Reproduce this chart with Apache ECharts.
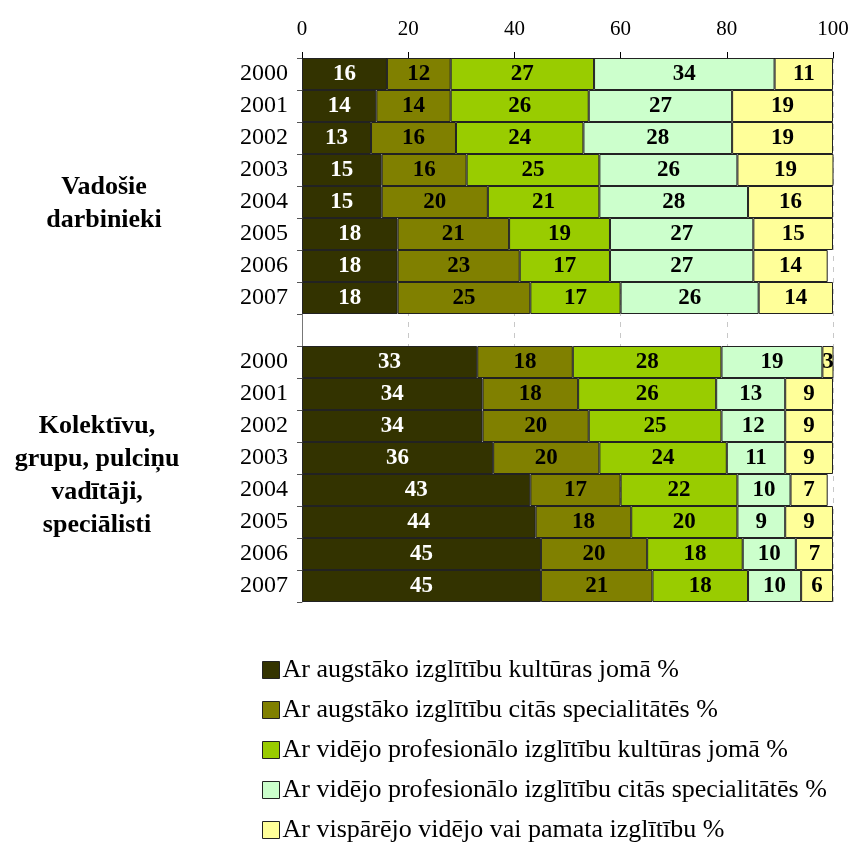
<!DOCTYPE html>
<html>
<head>
<meta charset="utf-8">
<script src="https://cdn.jsdelivr.net/npm/echarts@6/dist/echarts.min.js"></script>
<style>
  html, body { margin: 0; padding: 0; background: #fff; }
  #chart { width: 853px; height: 842px; }
</style>
</head>
<body>
<div id="chart"></div>
<script>
// Years shown in each group
const years = ['2000', '2001', '2002', '2003', '2004', '2005', '2006', '2007'];

// Series names (education level)
const seriesNames = [
  'Ar augstāko izglītību kultūras jomā %',
  'Ar augstāko izglītību citās specialitātēs %',
  'Ar vidējo profesionālo izglītību kultūras jomā %',
  'Ar vidējo profesionālo izglītību citās specialitātēs %',
  'Ar vispārējo vidējo vai pamata izglītību %'
];

// Group 1: Vadošie darbinieki
const leadHigherCulture  = [16, 14, 13, 15, 15, 18, 18, 18];
const leadHigherOther    = [12, 14, 16, 16, 20, 21, 23, 25];
const leadVocCulture     = [27, 26, 24, 25, 21, 19, 17, 17];
const leadVocOther       = [34, 27, 28, 26, 28, 27, 27, 26];
const leadGeneral        = [11, 19, 19, 19, 16, 15, 14, 14];

// Group 2: Kolektīvu, grupu, pulciņu vadītāji, speciālisti
const specHigherCulture  = [33, 34, 34, 36, 43, 44, 45, 45];
const specHigherOther    = [18, 18, 20, 20, 17, 18, 20, 21];
const specVocCulture     = [28, 26, 25, 24, 22, 20, 18, 18];
const specVocOther       = [19, 13, 12, 11, 10, 9, 10, 10];
const specGeneral        = [3, 9, 9, 9, 7, 9, 7, 6];

const xTicks = [0, 20, 40, 60, 80, 100];

const colors = ['#333300', '#808000', '#99CC00', '#CCFFCC', '#FFFF99'];
const labelColors = ['#ffffff', '#000000', '#000000', '#000000', '#000000'];

const leadSets = [leadHigherCulture, leadHigherOther, leadVocCulture, leadVocOther, leadGeneral];
const specSets = [specHigherCulture, specHigherOther, specVocCulture, specVocOther, specGeneral];

// Category axis: group 1 years, an empty spacer row, group 2 years
const categories = years.map(y => 'a' + y).concat(['gap']).concat(years.map(y => 'b' + y));

const serif = 'Liberation Serif';

const series = seriesNames.map((name, i) => ({
  name: name,
  type: 'bar',
  stack: 'total',
  barCategoryGap: 0,
  data: leadSets[i].concat([null]).concat(specSets[i]),
  itemStyle: { color: colors[i], borderColor: '#222', borderWidth: 1 },
  label: {
    show: true,
    position: 'inside',
    fontFamily: serif,
    fontWeight: 'bold',
    fontSize: 23,
    color: labelColors[i]
  },
  emphasis: { disabled: true }
}));

const chart = echarts.init(document.getElementById('chart'));
chart.setOption({
  animation: false,
  backgroundColor: '#ffffff',
  grid: { left: 302, right: 20, top: 58, bottom: 240, containLabel: false },
  xAxis: {
    type: 'value',
    position: 'top',
    min: 0,
    max: 100,
    interval: 20,
    axisLine: { show: true, lineStyle: { color: '#000', width: 1 } },
    axisTick: { show: true, length: 6, inside: false, lineStyle: { color: '#000' } },
    axisLabel: {
      margin: 18,
      fontFamily: serif,
      fontSize: 21,
      color: '#000',
      formatter: v => xTicks.indexOf(v) >= 0 ? String(v) : ''
    },
    splitLine: { show: true, lineStyle: { color: '#c8c8c8', type: [5, 6], width: 1 } }
  },
  yAxis: {
    type: 'category',
    inverse: true,
    data: categories,
    axisLine: { show: true, lineStyle: { color: '#777', width: 1 } },
    axisTick: { show: true, length: 5, alignWithLabel: false, lineStyle: { color: '#555' } },
    axisLabel: {
      margin: 14,
      fontFamily: serif,
      fontSize: 24,
      color: '#000',
      formatter: v => v === 'gap' ? '' : v.slice(1)
    }
  },
  legend: {
    orient: 'vertical',
    left: 257,
    top: 652,
    height: 200,
    itemWidth: 17,
    itemHeight: 17,
    itemGap: 14,
    icon: 'rect',
    selectedMode: false,
    itemStyle: { borderColor: '#222', borderWidth: 1 },
    textStyle: { fontFamily: serif, fontSize: 26, color: '#000', lineHeight: 26, padding: [0, 0, 0, -2] },
    data: seriesNames
  },
  graphic: [
    {
      type: 'text',
      x: 104,
      y: 171,
      style: {
        text: 'Vadošie\ndarbinieki',
        fontFamily: serif,
        fontWeight: 'bold',
        fontSize: 26,
        lineHeight: 33,
        fill: '#000',
        align: 'center',
        verticalAlign: 'top'
      }
    },
    {
      type: 'text',
      x: 97,
      y: 410,
      style: {
        text: 'Kolektīvu,\ngrupu, pulciņu\nvadītāji,\nspeciālisti',
        fontFamily: serif,
        fontWeight: 'bold',
        fontSize: 26,
        lineHeight: 33,
        fill: '#000',
        align: 'center',
        verticalAlign: 'top'
      }
    }
  ],
  series: series
});
</script>
</body>
</html>
